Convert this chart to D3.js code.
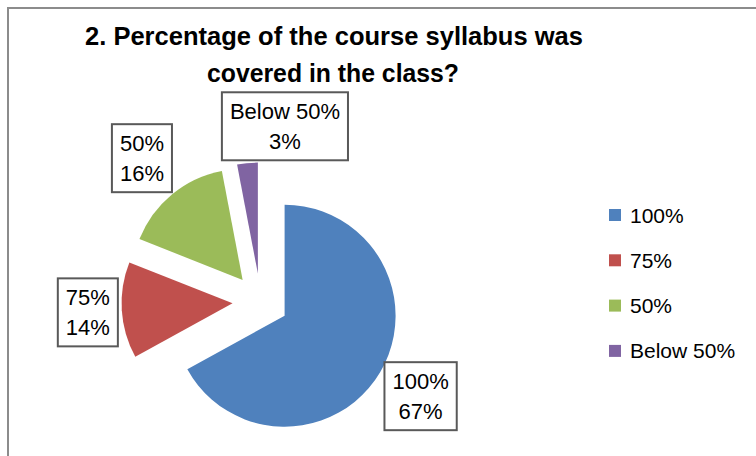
<!DOCTYPE html>
<html>
<head>
<meta charset="utf-8">
<script src="https://cdn.jsdelivr.net/npm/d3@7"></script>
<style>
  body { margin: 0; background: #fff; }
  text { font-family: "Liberation Sans", Arial, sans-serif; fill: #000; }
</style>
</head>
<body>
<div id="chart"></div>
<script>
// data
var categories = ["100%", "75%", "50%", "Below 50%"];
var shares = [67, 14, 16, 3];
var colors = ["#4F81BD", "#C0504D", "#9BBB59", "#8064A2"];
var titleLines = ["2. Percentage of the course syllabus was", "covered in the class?"];

var width = 756;
var height = 456;

var cx = 260.5, cy = 301.5;   // pie centre
var radius = 111;
var explode = 28;

// where each data label box sits (radial distance from centre, plus a nudge)
var labelDist = [186, 173, 186, 176];
var labelNudge = [[0, 0], [0, 0], [0, 0], [41, 0]];

var svg = d3.select("#chart")
    .append("svg")
    .attr("width", width)
    .attr("height", height);

// chart area border (runs off the right and bottom of the picture)
svg.append("rect")
    .attr("x", 8)
    .attr("y", 8)
    .attr("width", 800)
    .attr("height", 500)
    .attr("fill", "#fff")
    .attr("stroke", "#8c8c8c")
    .attr("stroke-width", 2);

// title
svg.append("text")
    .attr("x", 334)
    .attr("y", 45)
    .attr("text-anchor", "middle")
    .attr("font-weight", "bold")
    .attr("font-size", 26)
    .attr("textLength", 498)
    .attr("lengthAdjust", "spacingAndGlyphs")
    .text(titleLines[0]);

svg.append("text")
    .attr("x", 333)
    .attr("y", 82)
    .attr("text-anchor", "middle")
    .attr("font-weight", "bold")
    .attr("font-size", 26)
    .attr("textLength", 252)
    .attr("lengthAdjust", "spacingAndGlyphs")
    .text(titleLines[1]);

var pie = d3.pie()
    .sort(null)
    .value(function(d) { return d; });

var arc = d3.arc()
    .innerRadius(0)
    .outerRadius(radius);

var arcs = pie(shares);

function mid(d) {
    var a = (d.startAngle + d.endAngle) / 2;
    return [Math.sin(a), -Math.cos(a)];
}

var g = svg.append("g")
    .attr("transform", "translate(" + cx + "," + cy + ")");

g.selectAll("path.slice")
    .data(arcs)
    .enter()
    .append("path")
    .attr("class", "slice")
    .attr("fill", function(d, i) { return colors[i]; })
    .attr("transform", function(d) {
        var m = mid(d);
        return "translate(" + (m[0] * explode) + "," + (m[1] * explode) + ")";
    })
    .attr("d", arc);

// data labels in boxes
var labels = g.selectAll("g.label")
    .data(arcs)
    .enter()
    .append("g")
    .attr("class", "label")
    .attr("transform", function(d, i) {
        var m = mid(d);
        var x = m[0] * labelDist[i] + labelNudge[i][0];
        var y = m[1] * labelDist[i] + labelNudge[i][1];
        return "translate(" + x + "," + y + ")";
    });

labels.each(function(d, i) {
    var lab = d3.select(this);
    var t1 = lab.append("text")
        .attr("text-anchor", "middle")
        .attr("font-size", 22)
        .attr("y", -7)
        .text(categories[i]);
    var t2 = lab.append("text")
        .attr("text-anchor", "middle")
        .attr("font-size", 22)
        .attr("y", 23)
        .text(shares[i] + "%");
    var w = Math.max(t1.node().getComputedTextLength(), t2.node().getComputedTextLength()) + 16;
    lab.insert("rect", "text")
        .attr("x", -w / 2)
        .attr("y", -34)
        .attr("width", w)
        .attr("height", 68)
        .attr("fill", "#fff")
        .attr("stroke", "#595959")
        .attr("stroke-width", 2);
});

// legend
var legend = svg.append("g")
    .attr("transform", "translate(609,215)");

var rows = legend.selectAll("g")
    .data(categories)
    .enter()
    .append("g")
    .attr("transform", function(d, i) { return "translate(0," + (i * 45.3) + ")"; });

rows.append("rect")
    .attr("x", 0)
    .attr("y", -6)
    .attr("width", 12)
    .attr("height", 12)
    .attr("fill", function(d, i) { return colors[i]; });

rows.append("text")
    .attr("x", 21)
    .attr("y", 7.5)
    .attr("font-size", 21)
    .text(function(d) { return d; });
</script>
</body>
</html>
